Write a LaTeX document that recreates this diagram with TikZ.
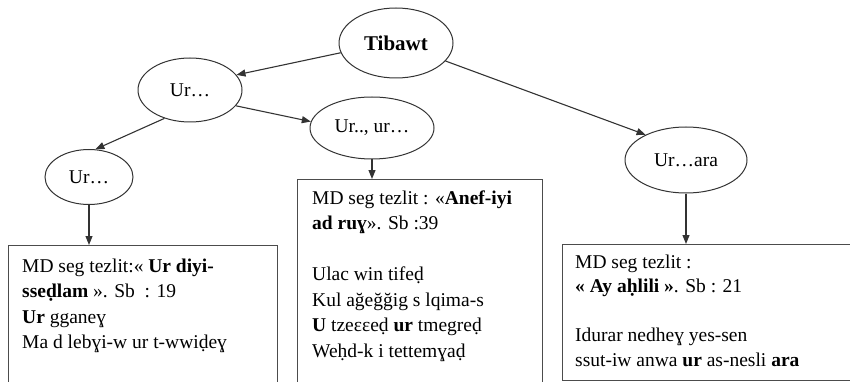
\documentclass[tikz,border=0pt]{standalone}
\usepackage{fontspec}
\setmainfont{Liberation Serif}
\usetikzlibrary{shapes.geometric,arrows.meta}
\begin{document}
\begin{tikzpicture}[x=1pt,y=-1pt,
  ell/.style={draw=black!80,line width=1pt,ellipse,inner sep=0pt,font=\fontsize{19.5}{22}\selectfont},
  arr/.style={draw=black!80,line width=1.1pt,-{Triangle[length=9pt,width=7pt]}},
  boxst/.style={draw=black!70,line width=1.3pt,rectangle,inner sep=0pt,anchor=north west},
  txt/.style={inner sep=0pt,anchor=north west,align=left,font=\fontsize{19.5}{25.5}\selectfont}]
\useasboundingbox (0,0) rectangle (850,382);
\clip (0,0) rectangle (850,382);
% ellipses
\node[ell,minimum width=114,minimum height=70,font=\fontsize{21}{22}\selectfont\bfseries] (tib) at (396,43) {Tibawt};
\node[ell,minimum width=104,minimum height=64] (ur1) at (190,90) {Ur…};
\node[ell,minimum width=124,minimum height=62] (ur2) at (372,128) {Ur.., ur…};
\node[ell,minimum width=88,minimum height=55] (ur3) at (89,177) {Ur…};
\node[ell,minimum width=122,minimum height=66] (ara) at (686,160) {Ur…ara};
% boxes
\node[boxst,minimum width=269,minimum height=150] (lb) at (8,245) {};
\node[boxst,minimum width=245,minimum height=220] (mb) at (297,179) {};
\node[boxst,minimum width=300,minimum height=136] (rb) at (562,244) {};
% texts
\node[txt] (lbt) at ([xshift=14pt,yshift=-12pt]lb.north west)
  {\rule{0pt}{15pt}MD seg tezlit:« \textbf{Ur diyi-}\\
   \textbf{sseḍlam} ». Sb \ : 19\\
   \textbf{Ur} gganeɣ\\
   Ma d lebɣi-w ur t-wwiḍeɣ};
\node[txt] (mbt) at ([xshift=15pt,yshift=-10pt]mb.north west)
  {\rule{0pt}{15pt}MD seg tezlit : «\textbf{Anef-iyi}\\
   \textbf{ad ruɣ}». Sb :39\\[25.5pt]
   Ulac win tifeḍ\\
   Kul ağeğğig s lqima-s\\
   \textbf{U} tzeɛɛeḍ \textbf{ur} tmegreḍ\\
   Weḥd-k i tettemɣaḍ};
\node[txt,font=\fontsize{19.5}{24.5}\selectfont] (rbt) at ([xshift=13pt,yshift=-9pt]rb.north west)
  {\rule{0pt}{15pt}MD seg tezlit :\\
   \textbf{« Ay aḥlili »}. Sb : 21\\[24.5pt]
   Idurar nedheɣ yes-sen\\
   ssut-iw anwa \textbf{ur} as-nesli \textbf{ara}};
% connectors
\draw[arr] (tib.190) -- (ur1.18);
\draw[arr] (tib.-20) -- (ara.148);
\draw[arr] (ur1.-19) -- (ur2.174);
\draw[arr] (ur1.-132) -- (ur3.77);
\draw[arr] (ur3.south) -- (ur3.south |- lb.north);
\draw[arr] (ur2.south) -- (ur2.south |- mb.north);
\draw[arr] (ara.south) -- (ara.south |- rb.north);
\end{tikzpicture}
\end{document}
